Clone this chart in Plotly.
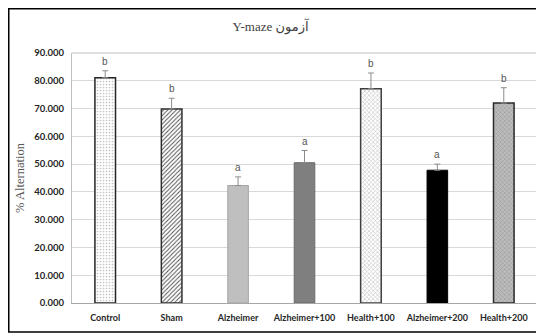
import plotly.graph_objects as go

categories = ["Control", "Sham", "Alzheimer", "Alzheimer+100", "Health+100", "Alzheimer+200", "Health+200"]
values = [81.1, 69.8, 42.3, 50.5, 77.1, 47.8, 72.0]
errors = [2.5, 3.9, 3.1, 4.4, 5.7, 2.2, 5.5]
letters = ["b", "b", "a", "a", "b", "a", "b"]
y_ticks = [0, 10, 20, 30, 40, 50, 60, 70, 80, 90]

title_text = "Y-maze آزمون"
y_title = "% Alternation"

colors = ["#ffffff", "#ffffff", "#bfbfbf", "#7f7f7f", "#ffffff", "#000000", "#bdbdbd"]
pat_shapes = [".", "/", "", "", "x", "", "x"]
pat_fg = ["#c4c4c4", "#4a4a4a", "#bfbfbf", "#7f7f7f", "#c8c8c8", "#000000", "#9a9a9a"]
pat_size = [3, 3, 8, 8, 3, 8, 3]
pat_sol = [0.25, 0.3, 0.3, 0.3, 0.4, 0.3, 0.35]
line_colors = ["#262626", "#303030", "#a6a6a6", "#6a6a6a", "#404040", "#000000", "#2a2a2a"]
line_widths = [1.5, 1.5, 1, 1, 1.5, 1, 1.5]

fig = go.Figure()
for i, c in enumerate(categories):
    pattern = dict(shape=pat_shapes[i], size=pat_size[i], solidity=pat_sol[i],
                   fgcolor=pat_fg[i], bgcolor=colors[i], fillmode="replace")
    fig.add_trace(go.Bar(
        x=[c], y=[values[i]], width=0.31,
        marker=dict(color=colors[i],
                    line=dict(color=line_colors[i], width=line_widths[i]),
                    pattern=pattern),
        error_y=dict(type="data", symmetric=False, array=[errors[i]],
                     arrayminus=[0], color="#8c8c8c", thickness=1, width=3),
        hoverinfo="skip",
    ))

for c, v, e, t in zip(categories, values, errors, letters):
    fig.add_annotation(x=c, y=v + e, text=t, showarrow=False,
                       yanchor="bottom", yshift=2,
                       font=dict(family="Liberation Sans", size=10, color="#555555"))

# outer chart frame
fig.add_shape(type="rect", xref="paper", yref="paper",
              x0=-0.1360, x1=1.03, y0=-0.116, y1=1.177,
              line=dict(color="#000000", width=1.5), fillcolor="rgba(0,0,0,0)",
              layer="above")
# right/top border of plot area
fig.add_shape(type="line", xref="paper", yref="paper", x0=1, x1=1, y0=0, y1=1,
              line=dict(color="#bfbfbf", width=1))
fig.add_shape(type="line", xref="paper", yref="paper", x0=0, x1=1, y0=1, y1=1,
              line=dict(color="#bfbfbf", width=1))

# page body has an 8px margin, so the figure is 8px smaller each way
fig.update_layout(
    width=536, height=326,
    margin=dict(l=64, r=7, t=45, b=31),
    paper_bgcolor="white", plot_bgcolor="white",
    showlegend=False,
    barmode="overlay",
    title=dict(text=title_text, x=0.49, xref="container", xanchor="center",
               y=1 - 18 / 326, yref="container", yanchor="middle",
               font=dict(family="Liberation Serif, DejaVu Sans", size=13, color="#404040")),
    xaxis=dict(
        automargin=False,
        showline=True, linecolor="#a6a6a6", linewidth=1, mirror=False,
        showgrid=False, ticks="",
        tickfont=dict(family="Lato", size=9, color="#262626", weight="bold"),
        ticklabelstandoff=6,
    ),
    yaxis=dict(
        automargin=False,
        range=[0, 90], tickvals=y_ticks, tickformat=".3f",
        showgrid=True, gridcolor="#d9d9d9", gridwidth=1,
        showline=True, linecolor="#bfbfbf", linewidth=1, mirror=True,
        ticks="", zeroline=False,
        tickfont=dict(family="Lato", size=9.5, color="#262626", weight="bold"),
        ticklabelstandoff=5,
        title=dict(text=y_title, standoff=6,
                   font=dict(family="Liberation Serif", size=12.5, color="#595959")),
    ),
)

fig.write_html("out.html")
